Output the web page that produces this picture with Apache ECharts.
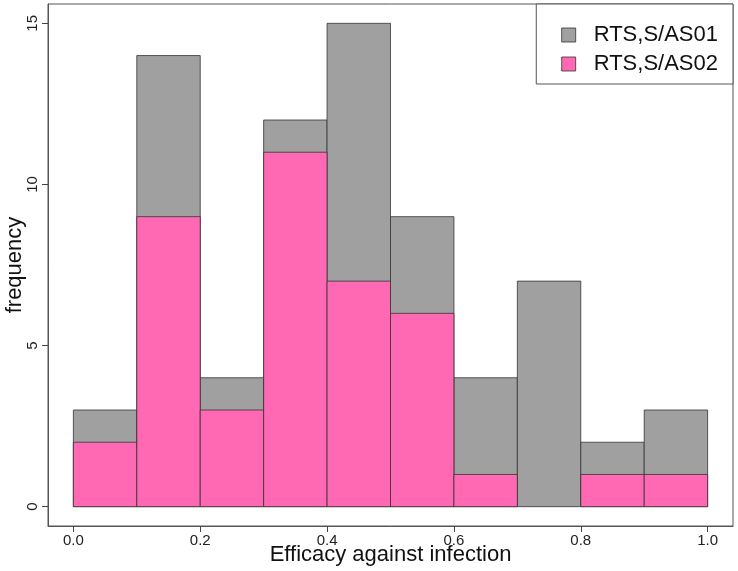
<!DOCTYPE html>
<html><head><meta charset="utf-8">
<script src="https://cdn.jsdelivr.net/npm/echarts@6/dist/echarts.min.js"></script>
<style>html,body{margin:0;padding:0;background:#fff}#c{width:738px;height:571px}</style>
</head><body><div id="c"></div>
<script>
const binStarts = [0.0,0.1,0.2,0.3,0.4,0.5,0.6,0.7,0.8,0.9];
const binWidth = 0.1;
const as01 = [3,14,4,12,15,9,4,7,2,3];
const as02 = [2,9,3,11,7,6,1,0,1,1];
const xTicks = [0,0.2,0.4,0.6,0.8,1.0];
const yTicks = [0,5,10,15];
const seriesNames = ['RTS,S/AS01','RTS,S/AS02'];
const colors = ['#A0A0A0','#FF69B4'];

function mk(vals){ return binStarts.map((s,i)=>[s, s+binWidth, vals[i]]); }
function render(params, api){
  if (api.value(2) <= 0) return null;
  const a = api.coord([api.value(0), 0]);
  const b = api.coord([api.value(1), api.value(2)]);
  return {type:'rect', shape:{x:a[0], y:b[1], width:b[0]-a[0], height:a[1]-b[1]},
    style:{fill:api.visual('color'), stroke:'#333', lineWidth:0.8}};
}
const font = 'Liberation Sans, Arial, sans-serif';
const chart = echarts.init(document.getElementById('c'), null, {renderer:'canvas'});
chart.setOption({
  animation:false,
  backgroundColor:'#fff',
  grid:{left:48, right:5, top:4, bottom:45, show:true, borderColor:'#555', borderWidth:1,
        backgroundColor:'transparent', containLabel:false, outerBoundsMode:'none'},
  xAxis:{type:'value', min:-0.04, max:1.04, position:'bottom',
     axisLine:{show:true, onZero:false, lineStyle:{color:'#555', width:1}}, splitLine:{show:false},
     axisTick:{show:true, length:6, customValues:xTicks, lineStyle:{color:'#444', width:1}},
     axisLabel:{customValues:xTicks, formatter:v=>v.toFixed(1), fontFamily:font, fontSize:15, color:'#222', margin:7},
     name:'Efficacy against infection', nameLocation:'middle', nameGap:18, nameMoveOverlap:false,
     nameTextStyle:{fontFamily:font, fontSize:22, color:'#111'}},
  yAxis:{type:'value', min:-0.6, max:15.6, position:'left',
     axisLine:{show:true, onZero:false, lineStyle:{color:'#555', width:1}}, splitLine:{show:false},
     axisTick:{show:true, length:6, customValues:yTicks, lineStyle:{color:'#444', width:1}},
     axisLabel:{customValues:yTicks, rotate:90, fontFamily:font, fontSize:15, color:'#222', margin:8},
     name:'frequency', nameLocation:'middle', nameGap:22, nameMoveOverlap:false,
     nameTextStyle:{fontFamily:font, fontSize:22, color:'#111'}},
  legend:{
    orient:'vertical', right:5, top:4,
    padding:[20,15,9,25], itemGap:7, itemWidth:14, itemHeight:14,
    borderColor:'#555', borderWidth:1, backgroundColor:'#fff',
    textStyle:{fontFamily:font, fontSize:22, lineHeight:22, color:'#111', padding:[0,0,0,13]},
    data:seriesNames.map((n,i)=>({name:n, icon:'rect', itemStyle:{color:colors[i], borderColor:'#333', borderWidth:0.8}}))
  },
  series:[
    {name:seriesNames[0], type:'custom', renderItem:render, data:mk(as01), itemStyle:{color:colors[0]}, encode:{x:[0,1], y:2}},
    {name:seriesNames[1], type:'custom', renderItem:render, data:mk(as02), itemStyle:{color:colors[1]}, encode:{x:[0,1], y:2}}
  ]
});
</script></body></html>
